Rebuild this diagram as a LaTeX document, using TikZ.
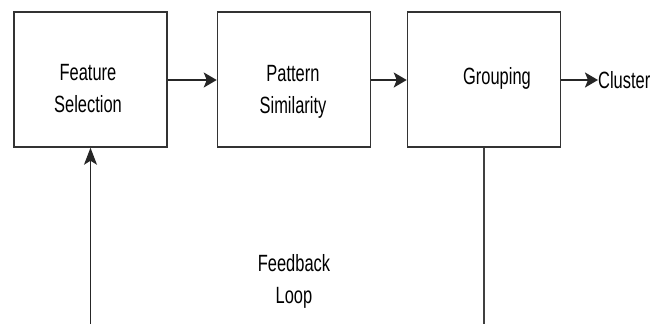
\documentclass[tikz,border=0pt]{standalone}
\usepackage{fontspec}
\setmainfont{Liberation Sans}[FakeStretch=0.7]
\usepackage{tikz}
\usetikzlibrary{arrows.meta, positioning}

\begin{document}
\begin{tikzpicture}[
    x=1pt, y=-1pt,
    block/.style={rectangle, draw=black!80, line width=1.5pt, minimum width=153pt, minimum height=135pt, inner sep=0pt},
    lbl/.style={align=center, inner sep=0pt, font=\fontsize{23.5}{32}\selectfont},
    flow/.style={draw=black!85, line width=2pt, -{Stealth[length=13pt, width=15pt, inset=3pt]}},
    loop/.style={draw=black!75, line width=1.1pt},
]
    \useasboundingbox (0,0) rectangle (661,324);
    % Blocks
    \node[block] (fs) at (90.5, 79.5) {};
    \node[block] (ps) at (294, 79.5) {};
    \node[block] (grp) at (484, 79.5) {};
    % Block texts
    \node[lbl] (fstext) at (88, 89) {Feature\\Selection};
    \node[lbl] (pstext) at (293, 91.5) {Pattern\\Similarity};
    \node[lbl] (grptext) at (497, 78) {Grouping};
    \node[lbl, anchor=west] (cluster) at (598, 80) {Cluster};
    % Forward flow
    \draw[flow] (fs.east |- 0,80) -- (ps.west |- 0,80);
    \draw[flow] (ps.east |- 0,80) -- (grp.west |- 0,80);
    \draw[flow] (grp.east |- 0,80) -- (cluster.west);
    % Feedback
    \coordinate (bot) at (0, 324);
    \draw[loop] (grp.south) -- (grp.south |- bot);
    \draw[loop, draw=black!85, -{Stealth[length=17pt, width=13pt, inset=4pt]}] (fs.south |- bot) -- (fs.south);
    \node[lbl] (fbtext) at (294, 281) {Feedback\\Loop};
\end{tikzpicture}
\end{document}
